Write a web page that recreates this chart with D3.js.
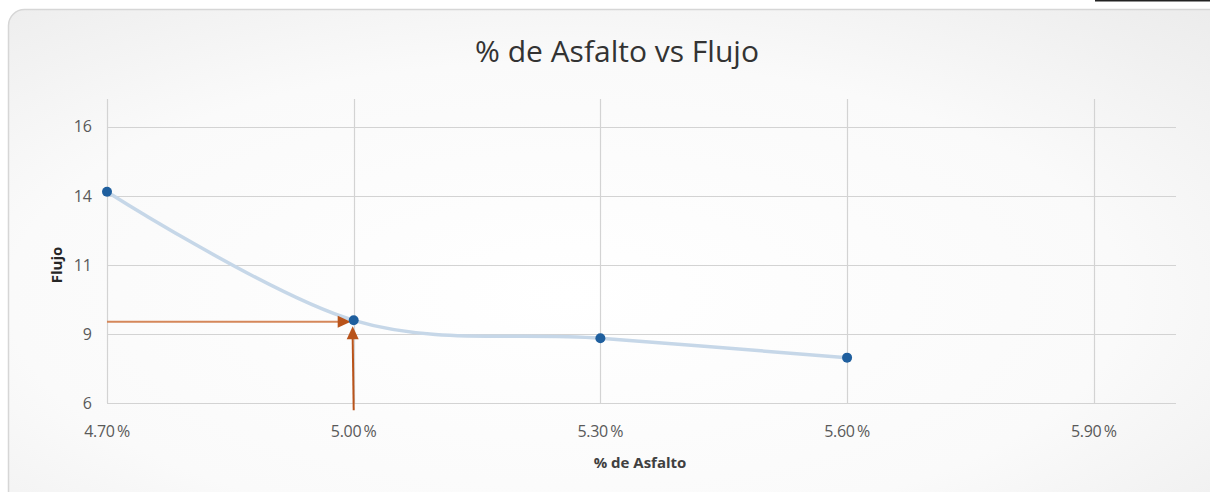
<!DOCTYPE html>
<html>
<head>
<meta charset="utf-8">
<script src="https://cdn.jsdelivr.net/npm/d3@7/dist/d3.min.js"></script>
<style>
  html, body { margin: 0; padding: 0; background: #ffffff; }
  svg { display: block; }
</style>
</head>
<body>
<svg id="chart" width="1210" height="492"></svg>
<script>
// Asphalt content (%) against flow
const asfalto = [4.7, 5.0, 5.3, 5.6];
const flujo = [13.65, 9.0, 8.35, 7.65];

// Axis ticks and their printed labels
const xTicks = [4.7, 5.0, 5.3, 5.6, 5.9];
const xTickLabels = ["4.70\u2009%", "5.00\u2009%", "5.30\u2009%", "5.60\u2009%", "5.90\u2009%"];
const yTicks = [6, 8.5, 11, 13.5, 16];
const yTickLabels = ["6", "9", "11", "14", "16"];

// Optimum asphalt content
const optimoAsfalto = 5.0;
const optimoFlujo = 9.0;

const svg = d3.select("#chart");
const W = 1210, H = 492;
const font = "'Open Sans', 'Noto Sans', sans-serif";

const defs = svg.append("defs");
const grad = defs.append("radialGradient")
  .attr("id", "bg").attr("cx", "45%").attr("cy", "55%").attr("r", "75%");
grad.append("stop").attr("offset", "0%").attr("stop-color", "#ffffff");
grad.append("stop").attr("offset", "60%").attr("stop-color", "#fafafa");
grad.append("stop").attr("offset", "100%").attr("stop-color", "#ececec");

// Chart frame (runs past the right and bottom edges)
svg.append("rect")
  .attr("x", 8.5).attr("y", 9.5)
  .attr("width", W + 30).attr("height", H + 30)
  .attr("rx", 16).attr("ry", 16)
  .attr("fill", "url(#bg)")
  .attr("stroke", "#d6d6d6").attr("stroke-width", 1.5);

// Small dark rule at the top right
svg.append("line")
  .attr("x1", 1095).attr("x2", W).attr("y1", 0.5).attr("y2", 0.5)
  .attr("stroke", "#222").attr("stroke-width", 2);

const m = { left: 107, right: 1176, top: 99, bottom: 403.3 };
const x = d3.scaleLinear().domain([4.7, 6.0]).range([m.left, m.right]);
const y = d3.scaleLinear().domain([6, 17]).range([m.bottom, m.top]);

const gridColor = "#d3d3d3";
const g = svg.append("g");

// Horizontal gridlines
g.selectAll("line.hg").data(yTicks).join("line")
  .attr("class", "hg")
  .attr("x1", x(4.7)).attr("x2", x(6.0))
  .attr("y1", d => Math.round(y(d)) + 0.5).attr("y2", d => Math.round(y(d)) + 0.5)
  .attr("stroke", gridColor).attr("stroke-width", 1.2);

// Vertical gridlines
g.selectAll("line.vg").data(xTicks).join("line")
  .attr("class", "vg")
  .attr("x1", d => Math.round(x(d)) + 0.5).attr("x2", d => Math.round(x(d)) + 0.5)
  .attr("y1", y(17)).attr("y2", y(6))
  .attr("stroke", gridColor).attr("stroke-width", 1.2);

// Y tick labels
g.selectAll("text.yl").data(yTicks).join("text")
  .attr("class", "yl")
  .attr("x", m.left - 15)
  .attr("y", d => y(d))
  .attr("dy", "0.36em")
  .attr("text-anchor", "end")
  .attr("font-family", font)
  .attr("font-size", 16)
  .attr("fill", "#595959")
  .text((d, i) => yTickLabels[i]);

// X tick labels
g.selectAll("text.xl").data(xTicks).join("text")
  .attr("class", "xl")
  .attr("x", d => x(d))
  .attr("y", 437)
  .attr("text-anchor", "middle")
  .attr("font-family", font)
  .attr("font-size", 16)
  .attr("letter-spacing", "-0.3")
  .attr("fill", "#595959")
  .text((d, i) => xTickLabels[i]);

// Title
svg.append("text")
  .attr("x", 617).attr("y", 62)
  .attr("text-anchor", "middle")
  .attr("font-family", font)
  .attr("font-size", 30)
  .attr("fill", "#333333")
  .text("% de Asfalto vs Flujo");

// Axis titles
svg.append("text")
  .attr("x", 640).attr("y", 468)
  .attr("text-anchor", "middle")
  .attr("font-family", font)
  .attr("font-size", 15).attr("font-weight", "bold")
  .attr("fill", "#404040")
  .text("% de Asfalto");

svg.append("text")
  .attr("transform", "translate(62," + 265 + ") rotate(-90)")
  .attr("text-anchor", "middle")
  .attr("font-family", font)
  .attr("font-size", 15).attr("font-weight", "bold")
  .attr("fill", "#262626")
  .text("Flujo");

const pts = asfalto.map((a, i) => [a, flujo[i]]);

// Smoothed series line
const line = d3.line()
  .x(d => x(d[0])).y(d => y(d[1]))
  .curve(d3.curveCatmullRom.alpha(0));
svg.append("path")
  .datum(pts)
  .attr("d", line)
  .attr("fill", "none")
  .attr("stroke", "#c6d7e8")
  .attr("stroke-width", 3.5)
  .attr("stroke-linecap", "round");

// Arrows marking the optimum
const arrowDark = "#b9531a";
function arrowHead(tipX, tipY, dir) {
  const L = 13, Wd = 6;
  let p;
  if (dir === "right") p = [[tipX, tipY], [tipX - L, tipY - Wd], [tipX - L, tipY + Wd]];
  else p = [[tipX, tipY], [tipX - Wd, tipY + L], [tipX + Wd, tipY + L]];
  svg.append("path").attr("d", "M" + p.join("L") + "Z").attr("fill", arrowDark);
}
const px = x(optimoAsfalto), py = y(optimoFlujo);

svg.append("line")
  .attr("x1", x(4.7)).attr("x2", px - 12)
  .attr("y1", py + 1.5).attr("y2", py + 1.5)
  .attr("stroke", "#d5875a").attr("stroke-width", 2);
arrowHead(px - 3, py + 1.5, "right");

svg.append("line")
  .attr("x1", px).attr("x2", px - 1)
  .attr("y1", y(5.75)).attr("y2", py + 18)
  .attr("stroke", arrowDark).attr("stroke-width", 2);
arrowHead(px - 1, py + 6, "up");

// Data points
svg.selectAll("circle.pt").data(pts).join("circle")
  .attr("class", "pt")
  .attr("cx", d => x(d[0])).attr("cy", d => y(d[1]))
  .attr("r", 5)
  .attr("fill", "#1f5f9e");
</script>
</body>
</html>
